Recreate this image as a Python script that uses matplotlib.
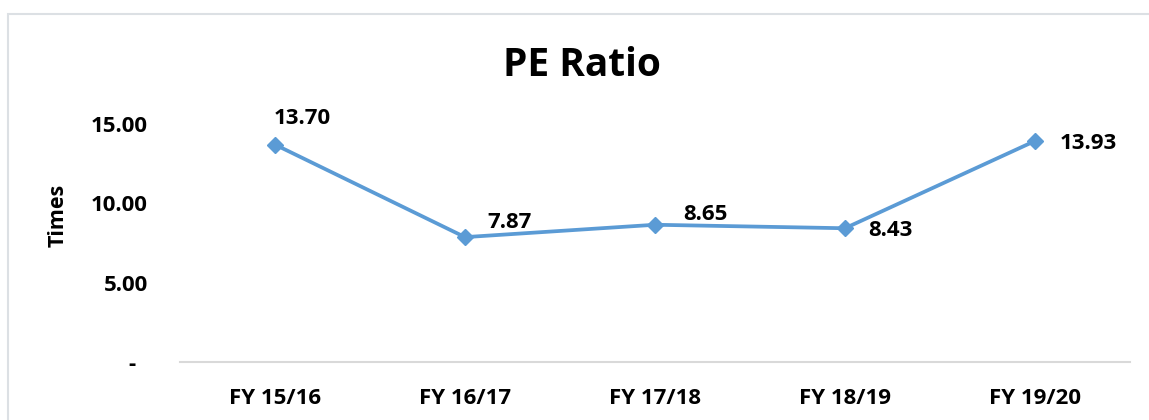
import matplotlib
matplotlib.use("Agg")
import matplotlib.pyplot as plt
from matplotlib.patches import Rectangle

categories = ["FY 15/16", "FY 16/17", "FY 17/18", "FY 18/19", "FY 19/20"]
pe_ratio = [13.70, 7.87, 8.65, 8.43, 13.93]
yticks = [0, 5, 10, 15]
ytick_labels = ["-  ", "5.00", "10.00", "15.00"]
label_offsets = [(27, 26), (45, 15), (50, 10), (45, -2), (53, -3)]

plt.rcParams['font.family'] = ['Open Sans', 'DejaVu Sans']
W, H = 1149, 420
fig = plt.figure(figsize=(W / 100, H / 100), dpi=100)
fig.patch.set_facecolor("white")

# chart border (top and left visible)
fig.patches.append(Rectangle((8 / W, -0.1), 1.2, 1 - 14 / H + 0.1, transform=fig.transFigure,
                             fill=False, edgecolor="#DCE0E4", linewidth=1.5))

ax = fig.add_axes([180 / W, 1 - 362 / H, (1130 - 180) / W, (362 - 124) / H])
x = list(range(len(categories)))
ax.plot(x, pe_ratio, color="#5B9BD5", linewidth=2.7, marker="D", markersize=8,
        clip_on=False, zorder=3)
ax.set_xlim(-0.5, len(categories) - 0.5)
ax.set_ylim(0, 15)
ax.set_yticks(yticks)
ax.set_yticklabels(ytick_labels)
ax.set_xticks(x)
ax.set_xticklabels(categories)
for lab in ax.get_xticklabels() + ax.get_yticklabels():
    lab.set_fontweight("bold")
    lab.set_fontsize(16)
ax.tick_params(axis="both", length=0)
ax.tick_params(axis="y", pad=23)
ax.tick_params(axis="x", pad=19)
for s in ["top", "right", "left"]:
    ax.spines[s].set_visible(False)
ax.spines["bottom"].set_color("#D9D9D9")
ax.spines["bottom"].set_linewidth(1.5)
ax.set_facecolor("none")

for xi, v, (dx, dy) in zip(x, pe_ratio, label_offsets):
    ax.annotate(f"{v:.2f}", (xi, v), xytext=(dx, dy), textcoords="offset pixels",
                ha="center", va="center", fontsize=16, fontweight="bold", color="black")

fig.text(582 / W, 1 - 66 / H, "PE Ratio", ha="center", va="center", fontsize=28,
         fontweight="bold")
fig.text(58 / W, 1 - 215 / H, "Times", ha="center", va="center", rotation=90,
         fontsize=15.5, fontweight="bold")

fig.savefig("out.png", dpi=100, facecolor="white")
